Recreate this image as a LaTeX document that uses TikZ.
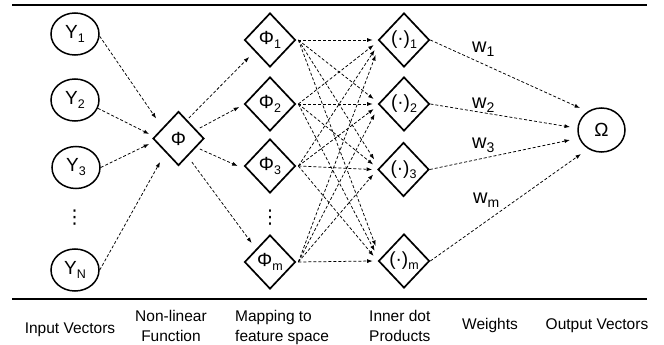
\documentclass[tikz,border=0pt]{standalone}
\usepackage{fontspec}
\setmainfont{Liberation Sans}
\newfontfamily\dotsfont{DejaVu Sans}
\usetikzlibrary{shapes.geometric,arrows.meta,calc}

% lowered subscript in text font: optional size, then the index
\newcommand{\lowsub}[2][12.5]{\raisebox{-4pt}{\fontsize{#1}{#1}\selectfont #2}}

\begin{document}
\begin{tikzpicture}[x=1pt,y=-1pt,
  rule/.style={line width=2.8pt},
  vec/.style={draw, ellipse, line width=1.5pt, minimum width=48pt,
    minimum height=42pt, inner sep=0pt, font=\fontsize{19}{19}\selectfont},
  dia/.style={draw, diamond, line width=1.7pt, minimum width=51pt,
    minimum height=54pt, inner sep=0pt, font=\fontsize{19}{19}\selectfont},
  link/.style={line width=0.75pt, dash pattern=on 3pt off 2pt,
    -{Latex[length=5.5pt,width=4pt]}},
  wlab/.style={font=\fontsize{20}{20}\selectfont, anchor=base west, inner sep=0pt},
  captext/.style={font=\fontsize{15.5}{20}\selectfont, inner sep=0pt},
  vdot/.style={font=\dotsfont\fontsize{19}{19}\selectfont, inner sep=0pt}
]
\useasboundingbox (0,0) rectangle (664,345);

% horizontal rules
\draw[rule] (12,5) -- (647,5);
\draw[rule] (12,299) -- (647,299);

% input vectors
\node[vec] (y1) at (75,34) {Y\lowsub{1}};
\node[vec] (y2) at (75,100) {Y\lowsub{2}};
\node[vec] (y3) at (76,167.5) {Y\lowsub{3}};
\node[vdot] (vd1) at (74.5,218) {⋮};
\node[vec] (yn) at (75,270) {Y\lowsub{N}};

% non-linear function
\node[dia] (phi) at (178.5,138.5) {Φ};

% feature space mappings
\node[dia] (p1) at (270,40) {Φ\lowsub{1}};
\node[dia] (p2) at (270,104) {Φ\lowsub{2}};
\node[dia] (p3) at (270,166) {Φ\lowsub{3}};
\node[vdot] (vd2) at (270,218) {⋮};
\node[dia] (p4) at (270,262) {Φ\lowsub{m}};

% inner dot products
\node[dia] (d1) at (404,40) {(·)\lowsub{1}};
\node[dia] (d2) at (404,104) {(·)\lowsub{2}};
\node[dia] (d3) at (403.5,169.5) {(·)\lowsub{3}};
\node[dia] (d4) at (404,261) {(·)\lowsub{m}};

% output
\node[vec, minimum width=47pt, minimum height=44pt] (om) at (601.5,130) {Ω};

% inputs into the non-linear function
\draw[link] (y1.-5) -- ($(phi.west)+(4,-20)$);
\draw[link] (y2.-20) -- ($(phi.west)+(-3,-4.5)$);
\draw[link] (y3.east) -- ($(phi.west)+(-3,5.5)$);
\draw[link] (yn.east) -- ($(phi.west)+(8,23.5)$);

% non-linear function into feature space
\draw[link] ($(phi.east)+(-16,-20.5)$) -- ($(p1.west)+(5.5,17)$);
\draw[link] ($(phi.east)+(-5,-10.5)$) -- ($(p2.west)+(-4.5,3)$);
\draw[link] ($(phi.east)+(-5,10.5)$) -- ($(p3.west)+(-6,0)$);
\draw[link] ($(phi.east)+(-13,23.5)$) -- ($(p4.west)+(8,-19)$);

% every mapping into every inner product
\foreach \i in {1,2,3,4}{
  \foreach \j in {1,2,3,4}{
    \pgfmathsetmacro\k{\i-\j}
    \pgfmathsetmacro\dx{-5+abs(\k)}
    \pgfmathsetmacro\dy{5*\k}
    \draw[link] ($(p\i.east)+(2,0)$) -- ($(d\j.west)+(\dx,\dy)$);
  }
}

% weighted sums into the output
\draw[link] (d1.east) -- ($(om)+(-21.5,-22)$);
\draw[link] (d2.east) -- ($(om)+(-31.5,-3)$);
\draw[link] (d3.east) -- ($(om)+(-31.5,10)$);
\draw[link] (d4.east) -- ($(om)+(-20.5,24)$);

% weights
\node[wlab] (w1) at (472,53) {w\lowsub[14]{1}};
\node[wlab] (w2) at (472,108) {w\lowsub[14]{2}};
\node[wlab] (w3) at (472,148) {w\lowsub[14]{3}};
\node[wlab] (wm) at (473,203) {w\lowsub[14]{m}};

% column captions
\node[captext, anchor=base] (c1) at (70,333) {Input Vectors};
\node[captext, anchor=north, align=center] (c2) at (171,310.5) {Non-linear\\Function};
\node[captext, anchor=north west, align=left] (c3) at (235,310.5) {Mapping to\\feature space};
\node[captext, anchor=north west, align=left] (c4) at (369,310.5) {Inner dot\\Products};
\node[captext, anchor=base] (c5) at (490,329.5) {Weights};
\node[captext, anchor=base] (c6) at (597,329.5) {Output Vectors};
\end{tikzpicture}
\end{document}
